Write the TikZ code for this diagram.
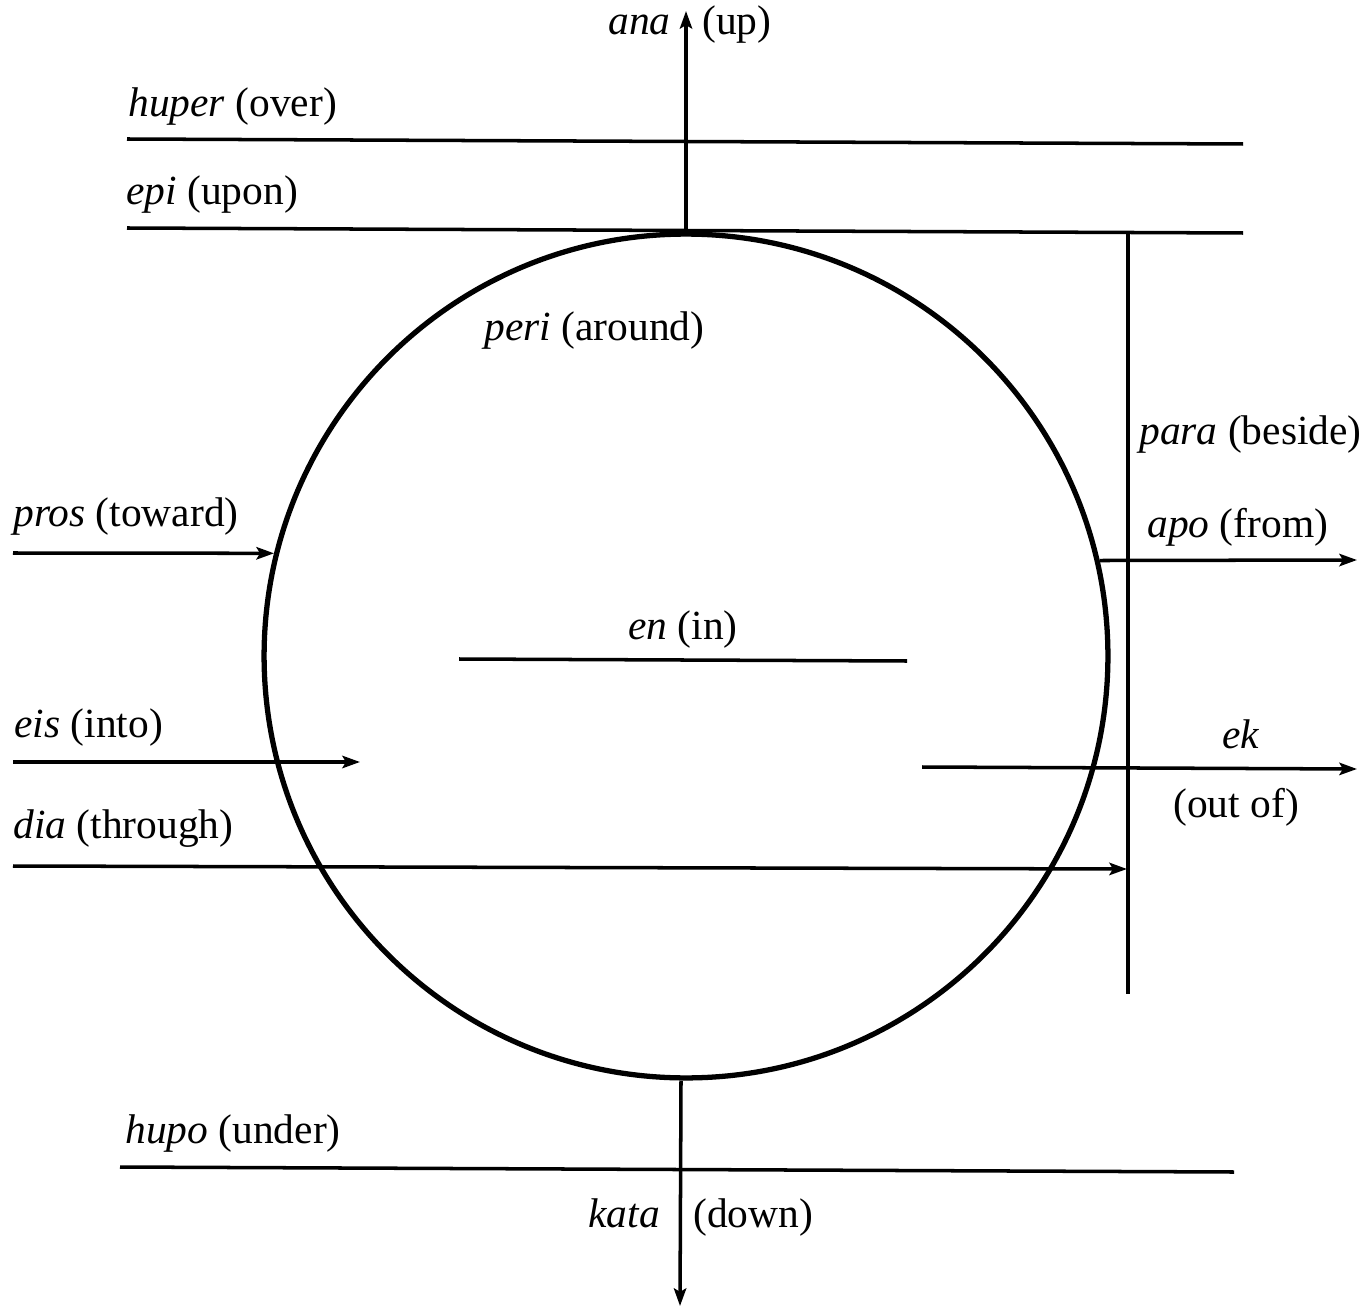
\documentclass[tikz,border=0pt]{standalone}
\usepackage{fontspec}
\setmainfont{Liberation Serif}
\usetikzlibrary{arrows.meta}
\begin{document}
\begin{tikzpicture}[x=0.02cm,y=-0.02cm,
  lbl/.style={anchor=base west,inner sep=0pt,font=\fontsize{23.6}{28}\selectfont},
  ln/.style={line width=2pt},
  arr/.style={ln,-{Stealth[length=10pt,width=7pt,inset=2pt]}}]
\useasboundingbox (0,0) rectangle (1371,1310);
% circle
\node[circle,draw,line width=3pt,minimum size=16.88cm,inner sep=0pt] (c) at (686,656) {};
% free ends
\coordinate (anaTop) at (686,11);
\coordinate (kataS) at (681,1081);
\coordinate (kataE) at (680,1306);
\coordinate (huperL) at (127,139); \coordinate (huperR) at (1243,144);
\coordinate (epiL) at (127,228); \coordinate (epiR) at (1243,233);
\coordinate (paraT) at (1128,234); \coordinate (paraB) at (1128,994);
\coordinate (prosL) at (13,553);
\coordinate (apoR) at (1357,560);
\coordinate (enL) at (459,659); \coordinate (enR) at (907,661);
\coordinate (eisL) at (13,762); \coordinate (eisR) at (360,762);
\coordinate (ekL) at (922,767); \coordinate (ekR) at (1357,769);
\coordinate (diaL) at (13,866); \coordinate (diaR) at (1127,869);
\coordinate (hupoL) at (120,1167); \coordinate (hupoR) at (1234,1172);
% lines
\draw[ln] (huperL) -- (huperR);
\draw[ln] (epiL) -- (epiR);
\draw[ln] (paraT) -- (paraB);
\draw[ln] (enL) -- (enR);
\draw[ln] (hupoL) -- (hupoR);
% arrows
\draw[arr] (c.north) -- (anaTop);
\draw[arr] (kataS) -- (kataE);
\draw[arr] (prosL) -- (c.166);
\draw[arr] (c.13) -- (apoR);
\draw[arr] (eisL) -- (eisR);
\draw[arr] (ekL) -- (ekR);
\draw[arr] (diaL) -- (diaR);
% labels
\node[lbl] (tana) at (608,35) {\textit{ana}};
\node[lbl] (tup) at (702,35) {(up)};
\node[lbl] (thuper) at (128,117) {\textit{huper} (over)};
\node[lbl] (tepi) at (126,205) {\textit{epi} (upon)};
\node[lbl] (tperi) at (484,341) {\textit{peri} (around)};
\node[lbl] (tpara) at (1139,445) {\textit{para} (beside)};
\node[lbl] (tpros) at (13,526) {\textit{pros} (toward)};
\node[lbl] (tapo) at (1147,537) {\textit{apo} (from)};
\node[lbl] (ten) at (628,639) {\textit{en} (in)};
\node[lbl] (teis) at (14,737) {\textit{eis} (into)};
\node[lbl] (tek) at (1222,748) {\textit{ek}};
\node[lbl] (tout) at (1173,817) {(out of)};
\node[lbl] (tdia) at (13,838) {\textit{dia} (through)};
\node[lbl] (thupo) at (125,1143) {\textit{hupo} (under)};
\node[lbl] (tkata) at (588,1227) {\textit{kata}};
\node[lbl] (tdown) at (693,1227) {(down)};
\end{tikzpicture}
\end{document}
